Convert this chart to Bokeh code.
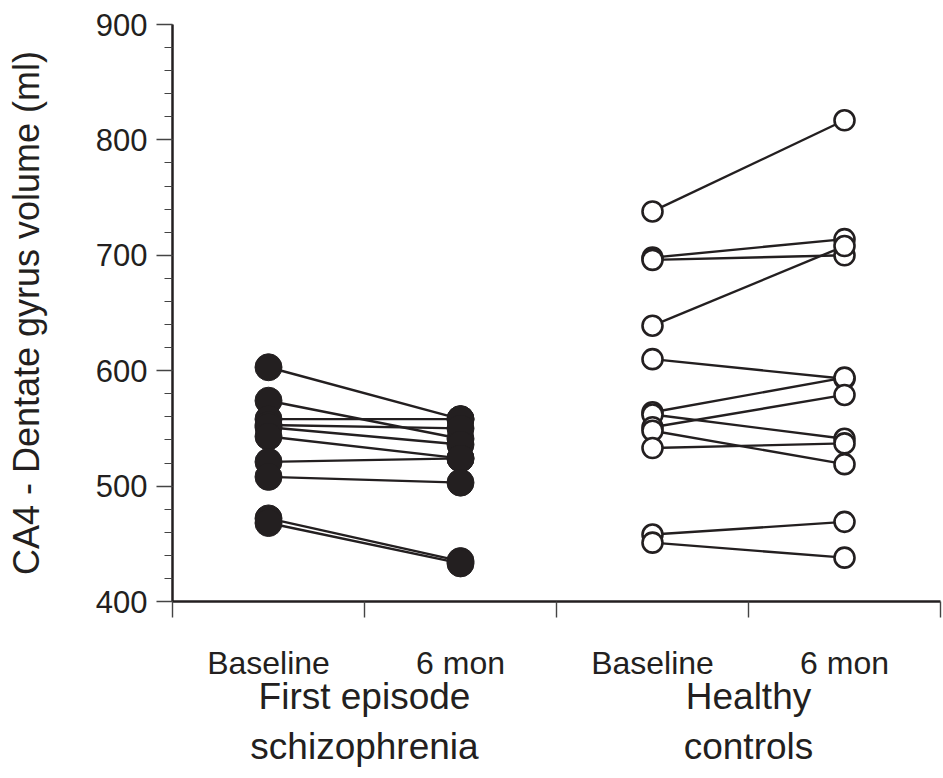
from bokeh.plotting import figure
from bokeh.models import Range1d, SingleIntervalTicker, FixedTicker, LinearAxis
from bokeh.embed import file_html
from bokeh.resources import INLINE

# ---- data ----
groups = ["First episode\nschizophrenia", "Healthy\ncontrols"]
timepoints = ["Baseline", "6 mon"]
y_label = "CA4 - Dentate gyrus volume (ml)"

fes_baseline = [603, 574, 558, 553, 551, 543, 521, 508, 472, 468]
fes_6mon = [558, 541, 558, 550, 536, 524, 524, 503, 435, 433]

hc_baseline = [738, 698, 696, 639, 610, 564, 562, 551, 548, 533, 458, 451]
hc_6mon = [817, 714, 700, 708, 593, 594, 541, 579, 519, 537, 469, 438]

y_min, y_max, y_step = 400, 900, 100

INK = "#231f20"
FONT = "Liberation Sans"

n_groups = len(groups)
n_tp = len(timepoints)
x_max = n_groups * n_tp


def xpos(gi, ti):
    return gi * n_tp + ti + 0.5


p = figure(width=943, height=778,
           x_range=Range1d(0, x_max), y_range=Range1d(y_min, y_max),
           output_backend="svg", toolbar_location=None,
           x_axis_location=None,
           min_border_left=172, min_border_right=3,
           min_border_top=24, min_border_bottom=177)
p.outline_line_color = None
p.xgrid.visible = False
p.ygrid.visible = False
p.background_fill_color = "white"
p.border_fill_color = "white"

# y axis
ya = p.yaxis[0]
ya.ticker = SingleIntervalTicker(interval=y_step, num_minor_ticks=5)
ya.axis_line_color = INK
ya.axis_line_width = 2.5
ya.major_tick_line_color = "#444444"
ya.major_tick_line_width = 1.4
ya.minor_tick_line_color = "#444444"
ya.minor_tick_line_width = 1.2
ya.major_tick_out = 16
ya.major_tick_in = 0
ya.minor_tick_out = 8
ya.minor_tick_in = 0
ya.major_label_text_font = FONT
ya.major_label_text_font_size = "31px"
ya.major_label_text_color = INK
ya.major_label_standoff = 9
ya.axis_label = y_label
ya.axis_label_text_font = FONT
ya.axis_label_text_font_size = "36px"
ya.axis_label_text_font_style = "normal"
ya.axis_label_text_color = INK
ya.axis_label_standoff = 46

# x axis: category labels at the points, separator ticks between
tp_pos = [xpos(gi, ti) for gi in range(n_groups) for ti in range(n_tp)]
tp_text = {xpos(gi, ti): timepoints[ti] for gi in range(n_groups) for ti in range(n_tp)}
xa = LinearAxis(ticker=FixedTicker(ticks=tp_pos, minor_ticks=list(range(0, x_max + 1))),
                major_label_overrides=tp_text)
xa.axis_line_color = INK
xa.axis_line_width = 2.5
xa.major_tick_line_color = None
xa.major_tick_out = 0
xa.major_tick_in = 0
xa.minor_tick_line_color = "#444444"
xa.minor_tick_line_width = 1.4
xa.minor_tick_out = 16
xa.minor_tick_in = 0
xa.major_label_standoff = 27
xa.major_label_text_font = FONT
xa.major_label_text_font_size = "32px"
xa.major_label_text_color = INK
p.add_layout(xa, "below")

# group labels
grp_pos = [gi * n_tp + n_tp / 2 for gi in range(n_groups)]
ga = LinearAxis(ticker=FixedTicker(ticks=grp_pos, minor_ticks=[]),
                major_label_overrides={grp_pos[i]: groups[i] for i in range(n_groups)})
ga.axis_line_color = None
ga.major_tick_line_color = None
ga.minor_tick_line_color = None
ga.major_tick_out = 0
ga.major_tick_in = 0
ga.major_label_standoff = -8
ga.major_label_text_font = FONT
ga.major_label_text_font_size = "37px"
ga.major_label_text_line_height = 1.22
ga.major_label_text_color = INK
p.add_layout(ga, "below")

series = [(fes_baseline, fes_6mon, INK, 27, 1.0),
          (hc_baseline, hc_6mon, "white", 20, 2.6)]

for gi, (b, s, fill, size, lw) in enumerate(series):
    x0 = [xpos(gi, 0)] * len(b)
    x1 = [xpos(gi, 1)] * len(s)
    p.segment(x0=x0, y0=b, x1=x1, y1=s, line_color=INK, line_width=2.4)
    p.scatter(x=x0 + x1, y=b + s, marker="circle", size=size,
              fill_color=fill, line_color=INK, line_width=lw)

open("out.html", "w").write(file_html(p, INLINE))
